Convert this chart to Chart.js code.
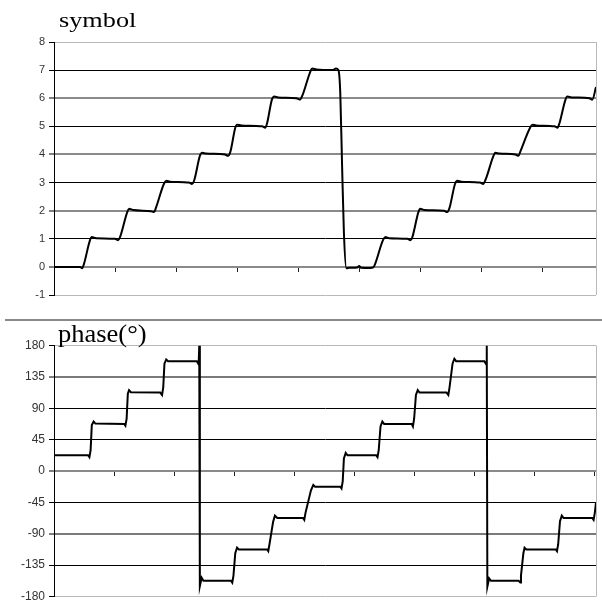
<!DOCTYPE html>
<html>
<head>
<meta charset="utf-8">
<title>symbol / phase</title>
<script src="https://cdn.jsdelivr.net/npm/chart.js@4.4.1/dist/chart.umd.min.js"></script>
<style>
    html, body { margin: 0; padding: 0; background: #fff; }
    body { width: 602px; height: 600px; overflow: hidden; position: relative; }
    .caixa { position: absolute; left: 0; width: 602px; height: 320px; }
    #caixaSymbol { top: 0; }
    #caixaPhase { top: 300px; }
    .titulo {
        position: absolute;
        font-family: "Liberation Serif", "Times New Roman", serif;
        color: #000;
        line-height: 1;
        white-space: nowrap;
        transform-origin: 0 0;
        z-index: 2;
    }
    #tituloSymbol { left: 59px; top: 10px; font-size: 21px; transform: scaleX(1.25); }
    #tituloPhase { left: 58px; top: 321px; font-size: 25px; transform: scaleX(1.06); }
    #separador { position: absolute; left: 5px; top: 319px; width: 597px; height: 2px; background: #888; z-index: 1; }
</style>
</head>
<body>
<div class="caixa" id="caixaSymbol"><canvas id="graficoSymbol" width="602" height="320"></canvas></div>
<div class="caixa" id="caixaPhase"><canvas id="graficoPhase" width="602" height="320"></canvas></div>
<div id="separador"></div>
<div class="titulo" id="tituloSymbol">symbol</div>
<div class="titulo" id="tituloPhase">phase(°)</div>

<script>
// ======================= DADOS =======================

// symbol: posição (amostra) e valor
const symbolX = [
    0, 43, 46, 49, 59, 62, 69, 100, 105, 108, 120, 123, 130, 159, 164, 167,
    180, 184, 190, 221, 226, 230, 239, 243, 249, 280, 285, 289, 297, 300, 307,
    341, 346, 349, 357, 361, 367, 397, 403, 407, 420, 423, 430, 457, 462, 466,
    469, 472, 475, 479, 484, 497, 500, 503, 518, 523, 526, 539, 543, 549,
    579, 584, 587, 597, 600, 607, 639, 644, 648, 657, 661, 667, 698, 703, 707,
    720, 723, 730, 756, 761, 764, 780, 784, 790, 820, 825, 828, 838, 841, 848,
    877, 882, 888,
];
const symbolY = [
    0, 0, -0.05, 0.1, 0.95, 1.06, 1.02, 1.0, 0.95, 1.05, 1.95, 2.07, 2.02, 1.98, 1.95, 2.1,
    2.95, 3.06, 3.03, 3.0, 2.95, 3.1, 3.95, 4.06, 4.03, 4.0, 3.95, 4.1, 4.95, 5.06, 5.03,
    5.0, 4.95, 5.1, 5.95, 6.06, 6.03, 6.0, 5.95, 6.1, 6.95, 7.06, 7.02, 7.0, 7.06, 7.0,
    6.2, 3.6, 1.2, -0.05, -0.03, -0.02, 0.03, -0.03, -0.04, -0.02, 0.1, 0.95, 1.06, 1.02,
    1.0, 0.95, 1.05, 1.95, 2.07, 2.02, 2.0, 1.95, 2.1, 2.95, 3.06, 3.03, 3.0, 2.95, 3.1,
    3.95, 4.06, 4.03, 4.0, 3.95, 4.1, 4.95, 5.06, 5.03, 5.0, 4.95, 5.1, 5.95, 6.06, 6.03,
    6.0, 5.95, 6.4,
];

// phase(°): posição (amostra) e valor em graus
const phaseX = [
    0, 57, 59, 61, 63, 66, 69, 117, 119, 121, 123, 125, 128, 177, 180, 182, 184, 187, 190,
    238, 241, 242, 243, 246, 249, 295, 297, 299, 302, 305, 308, 355, 357, 359, 365, 368, 372,
    415, 417, 419, 428, 432, 435, 477, 479, 481, 483, 486, 489, 537, 539, 541, 544, 547, 550,
    596, 598, 600, 603, 606, 609, 654, 657, 659, 664, 667, 670, 717, 720, 721, 722, 725, 728,
    774, 777, 778, 782, 784, 787, 836, 838, 840, 843, 846, 849, 897, 899, 901, 903,
];
const phaseY = [
    22.5, 22.5, 20, 30, 66, 71, 68, 67.5, 65, 75, 111, 116, 113, 112.5, 109, 120, 154, 160, 157.5,
    157.5, 153, 180, -165, -153, -157.5, -157.5, -160, -150, -118, -110, -112.5, -112.5, -115, -105, -73, -64, -67.5,
    -67.5, -70, -60, -28, -20, -22.5, -22.5, -25, -15, 18, 26, 22.5, 22.5, 20, 30, 64, 71, 67.5,
    67.5, 64, 75, 109, 116, 112.5, 112.5, 109, 120, 154, 161, 157.5, 157.5, 153, 180, -166, -154, -157.5,
    -157.5, -160, -150, -118, -110, -112.5, -112.5, -115, -105, -72, -64, -67.5, -67.5, -70, -60, -45,
];

// eixos
const symbolYTicks = [-1, 0, 1, 2, 3, 4, 5, 6, 7, 8];
const symbolXTicks = [0, 100, 200, 300, 400, 500, 600, 700, 800];
const phaseYGrade = [-180, -157.5, -135, -112.5, -90, -67.5, -45, -22.5, 0, 22.5, 45, 67.5, 90, 112.5, 135, 157.5, 180];
const phaseYLabels = [-180, -135, -90, -45, 0, 45, 90, 135, 180];
const phaseXTicks = [0, 100, 200, 300, 400, 500, 600, 700, 800, 900];

// ======================= HELPERS =======================

function pares(xs, ys) {
    return xs.map((x, i) => ({ x, y: ys[i] }));
}

function paraTicks(valores) {
    return valores.map((v) => ({ value: v }));
}

const fonteEixo = { family: '"Liberation Sans", Arial, sans-serif' };

// borda direita cinza da área do gráfico
const bordaDireita = {
    id: 'bordaDireita',
    beforeDatasetsDraw(chart) {
        const { ctx, chartArea } = chart;
        const x = Math.round(chartArea.right) + 0.5;
        ctx.save();
        ctx.strokeStyle = '#b8b8b8';
        ctx.lineWidth = 1;
        ctx.beginPath();
        ctx.moveTo(x, chartArea.top);
        ctx.lineTo(x, chartArea.bottom);
        ctx.stroke();
        ctx.restore();
    },
};

function gradeSymbol(v) {
    if (v === 8 || v === -1) return { cor: '#b8b8b8', largura: 1 };
    if (v % 2 === 0) return { cor: '#8a8a8a', largura: 2 };
    return { cor: '#000', largura: 1 };
}

function gradePhase(v) {
    if (v === 180 || v === -180 || v % 45 !== 0) return { cor: '#b8b8b8', largura: 1 };
    if (v === 0) return { cor: '#8c8c8c', largura: 2 };
    if (v === 135 || v === -90) return { cor: '#7a7a7a', largura: 2 };
    return { cor: '#000', largura: 1 };
}

function eixoX(max, ticks) {
    return {
        type: 'linear',
        position: { y: 0 },
        min: 0,
        max: max,
        afterBuildTicks: (s) => { s.ticks = paraTicks(ticks); },
        ticks: { display: false, autoSkip: false },
        grid: { drawOnChartArea: false, drawTicks: true, tickLength: 4, tickColor: '#222', tickWidth: 1 },
        border: { color: '#8a8a8a', width: 2 },
    };
}

// ======================= GRÁFICOS =======================

function desenharSymbol() {
    const ctx = document.getElementById('graficoSymbol').getContext('2d');
    new Chart(ctx, {
        type: 'line',
        data: {
            datasets: [{
                data: pares(symbolX, symbolY),
                borderColor: '#000',
                borderWidth: 2,
                pointRadius: 0,
                cubicInterpolationMode: 'monotone',
                fill: false,
            }],
        },
        options: {
            responsive: false,
            animation: false,
            devicePixelRatio: 1,
            layout: { padding: { top: 42, bottom: 25, left: 0, right: 6 } },
            plugins: { legend: { display: false }, tooltip: { enabled: false } },
            scales: {
                x: eixoX(888, symbolXTicks),
                y: {
                    min: -1,
                    max: 8,
                    afterBuildTicks: (s) => { s.ticks = paraTicks(symbolYTicks); },
                    afterFit: (s) => { s.width = 54; },
                    ticks: { color: '#333', font: { ...fonteEixo, size: 11 }, padding: 4 },
                    grid: {
                        color: (c) => gradeSymbol(c.tick.value).cor,
                        lineWidth: (c) => gradeSymbol(c.tick.value).largura,
                        tickLength: 5,
                        tickColor: '#000',
                        tickWidth: 1,
                    },
                    border: { color: '#000', width: 1 },
                },
            },
        },
        plugins: [bordaDireita],
    });
}

function desenharPhase() {
    const ctx = document.getElementById('graficoPhase').getContext('2d');
    new Chart(ctx, {
        type: 'line',
        data: {
            datasets: [{
                data: pares(phaseX, phaseY),
                borderColor: '#000',
                borderWidth: 2,
                pointRadius: 0,
                tension: 0,
                fill: false,
            }],
        },
        options: {
            responsive: false,
            animation: false,
            devicePixelRatio: 1,
            layout: { padding: { top: 45.5, bottom: 23.5, left: 0, right: 6 } },
            plugins: { legend: { display: false }, tooltip: { enabled: false } },
            scales: {
                x: eixoX(903, phaseXTicks),
                y: {
                    min: -180,
                    max: 180,
                    afterBuildTicks: (s) => { s.ticks = paraTicks(phaseYGrade); },
                    afterFit: (s) => { s.width = 54; },
                    ticks: {
                        color: '#333',
                        font: { ...fonteEixo, size: 12 },
                        padding: 4,
                        callback: (v) => (phaseYLabels.includes(v) ? v : ''),
                    },
                    grid: {
                        color: (c) => gradePhase(c.tick.value).cor,
                        lineWidth: (c) => gradePhase(c.tick.value).largura,
                        tickLength: 5,
                        tickColor: (c) => (phaseYLabels.includes(c.tick.value) ? '#000' : 'rgba(0,0,0,0)'),
                        tickWidth: 1,
                    },
                    border: { color: '#000', width: 1 },
                },
            },
        },
        plugins: [bordaDireita],
    });
}

document.addEventListener('DOMContentLoaded', () => {
    desenharSymbol();
    desenharPhase();
});
</script>
</body>
</html>
